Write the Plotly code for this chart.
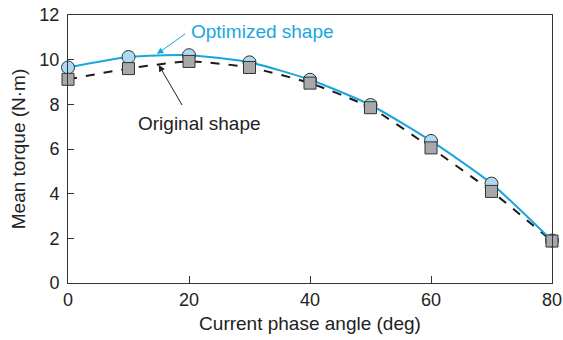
import plotly.graph_objects as go

angles = [0, 10, 20, 30, 40, 50, 60, 70, 80]
optimized = [9.65, 10.12, 10.2, 9.88, 9.1, 7.97, 6.36, 4.45, 1.9]
original = [9.12, 9.6, 9.92, 9.65, 8.95, 7.85, 6.05, 4.1, 1.88]
x_ticks = [0, 20, 40, 60, 80]
y_ticks = [0, 2, 4, 6, 8, 10, 12]

FONT = "Liberation Sans, Arial, sans-serif"
BLUE = "#19a6de"

fig = go.Figure()
fig.add_trace(go.Scatter(x=angles, y=original, mode="lines", line=dict(color="#1a1a1a", width=2, dash="dash", shape="spline", smoothing=0.6), showlegend=False, hoverinfo="skip"))
fig.add_trace(go.Scatter(x=angles, y=optimized, mode="lines", line=dict(color=BLUE, width=2, shape="spline", smoothing=0.6), showlegend=False, hoverinfo="skip"))
fig.add_trace(go.Scatter(x=angles, y=optimized, mode="markers", cliponaxis=False, marker=dict(symbol="circle", size=13, color="#acd9f1", line=dict(color="#333333", width=1)), showlegend=False))
fig.add_trace(go.Scatter(x=angles, y=original, mode="markers", cliponaxis=False, marker=dict(symbol="square", size=12, color="#a6a8ab", line=dict(color="#333333", width=1)), showlegend=False))

fig.add_annotation(x=14.7, y=10.25, ax=19.6, ay=11.2, axref="x", ayref="y", xref="x", yref="y", text="", showarrow=True, arrowhead=2, arrowsize=1.3, arrowwidth=1, arrowcolor=BLUE)
fig.add_annotation(x=15.0, y=9.76, ax=19.0, ay=7.9, axref="x", ayref="y", xref="x", yref="y", text="", showarrow=True, arrowhead=2, arrowsize=1.3, arrowwidth=1, arrowcolor="#222222")
fig.add_annotation(x=20.0, y=11.24, xref="x", yref="y", text="Optimized shape", showarrow=False, xanchor="left", yanchor="middle", font=dict(family=FONT, size=19, color=BLUE))
fig.add_annotation(x=21.8, y=7.12, xref="x", yref="y", text="Original shape", showarrow=False, xanchor="center", yanchor="middle", font=dict(family=FONT, size=19, color="#222222"))

fig.update_layout(
    width=563, height=340,
    margin=dict(l=68, r=11, t=15, b=57),
    plot_bgcolor="white", paper_bgcolor="white",
    font=dict(family=FONT, size=18, color="#222222"),
)
fig.update_xaxes(range=[0, 80], tickvals=x_ticks, ticks="inside", ticklen=7, tickcolor="#333333", automargin=False,
                 showline=True, linecolor="#333333", linewidth=1, mirror=True, showgrid=False, zeroline=False,
                 title=dict(text="Current phase angle (deg)", font=dict(size=19), standoff=8))
fig.update_yaxes(range=[0, 12], tickvals=y_ticks, ticks="inside", ticklen=6, tickcolor="#333333", automargin=False,
                 ticklabelstandoff=4,
                 showline=True, linecolor="#333333", linewidth=1, mirror=True, showgrid=False, zeroline=False,
                 title=dict(text="Mean torque (N·m)", font=dict(size=19), standoff=8))

fig.write_html("out.html", config={"displayModeBar": False},
               post_script="document.body.style.margin='0';document.body.style.padding='0';")
